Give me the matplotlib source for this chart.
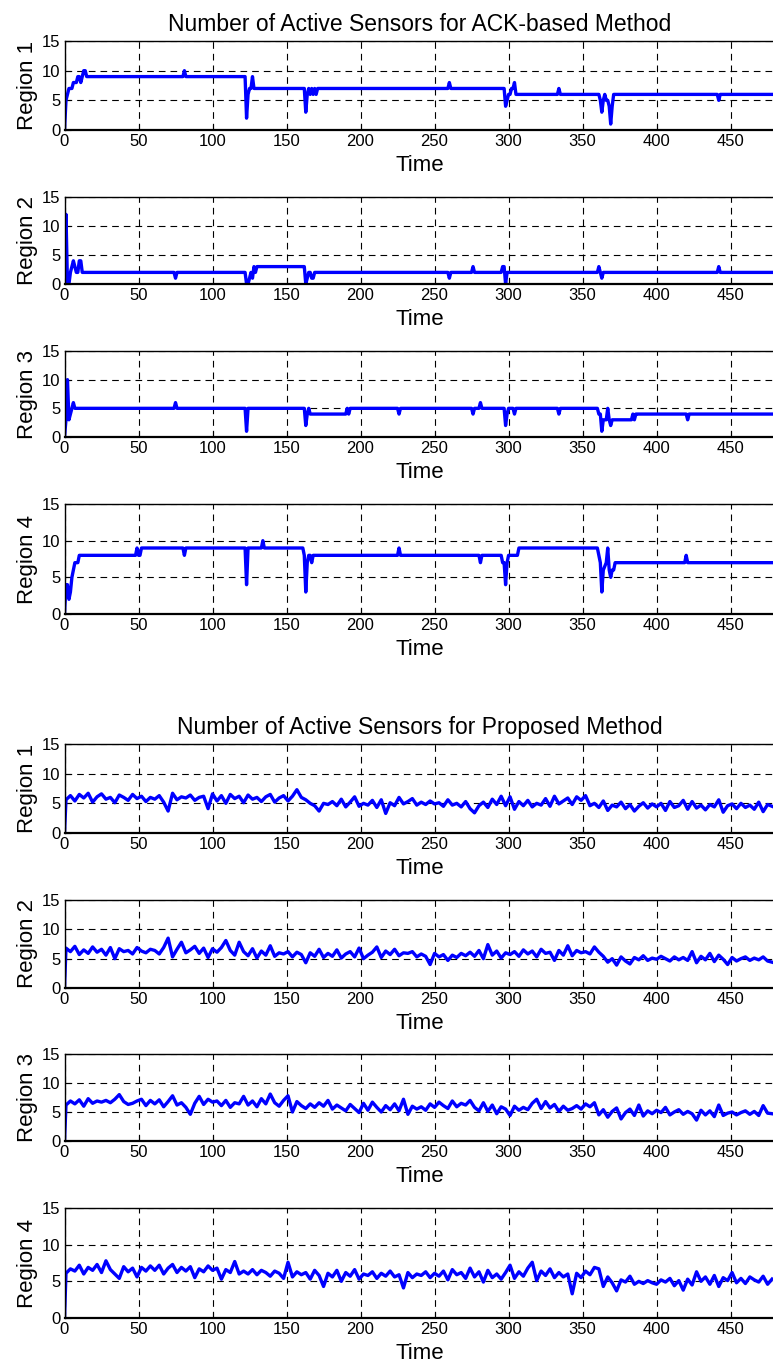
import numpy as np
import matplotlib
matplotlib.use("Agg")
import matplotlib.pyplot as plt

plt.rcParams['font.family'] = ['Liberation Sans', 'DejaVu Sans']

REGIONS = ["Region 1", "Region 2", "Region 3", "Region 4"]
TITLE_ACK = "Number of Active Sensors for ACK-based Method"
TITLE_PROP = "Number of Active Sensors for Proposed Method"

# ACK-based method: breakpoints (time, number of active sensors)
ack_t1 = [0, 1, 2, 3, 5, 6, 8, 9, 10, 11, 12, 13, 14, 15, 80, 81, 82,
          122, 123, 124, 125, 126, 127, 128,
          162, 163, 164, 165, 166, 167, 168, 169, 170, 171, 259, 260, 261,
          297, 298, 299, 300, 301, 302, 303, 304, 305, 333, 334, 335,
          361, 362, 363, 364, 365, 366, 367, 368, 369, 370, 371, 441, 442, 443, 480]
ack_v1 = [0, 5, 6, 7, 7, 8, 8, 9, 9, 8, 9, 10, 10, 9, 9, 10, 9,
          9, 2, 6, 7, 7, 9, 7,
          7, 3, 6, 7, 6, 7, 6, 7, 6, 7, 7, 8, 7,
          7, 4, 5, 6, 6, 7, 7, 8, 6, 6, 7, 6,
          6, 5, 3, 5, 6, 5, 5, 4, 1, 4, 6, 6, 5, 6, 6]

ack_t2 = [0, 1, 2, 3, 4, 5, 6, 7, 8, 9, 10, 11, 12, 74, 75, 76,
          122, 123, 124, 125, 126, 127, 128, 129, 130,
          161, 162, 163, 164, 165, 166, 167, 168, 169, 259, 260, 261,
          275, 276, 277, 295, 296, 297, 298, 299, 360, 361, 362, 363, 364,
          441, 442, 443, 480]
ack_v2 = [0, 12, 0, 0, 2, 3, 4, 3, 2, 2, 4, 4, 2, 2, 1, 2,
          2, 0, 0, 1, 2, 1, 3, 2, 3,
          3, 3, 0, 1, 2, 2, 1, 1, 2, 2, 1, 2,
          2, 3, 2, 2, 3, 3, 0, 2, 2, 3, 2, 1, 2,
          2, 3, 2, 2]

ack_t3 = [0, 1, 2, 3, 4, 5, 6, 7, 74, 75, 76, 122, 123, 124,
          162, 163, 164, 165, 166, 190, 191, 192, 193, 225, 226, 227,
          275, 276, 277, 280, 281, 282, 296, 297, 298, 299, 300, 303, 304, 305,
          333, 334, 335, 360, 361, 362, 363, 364, 366, 367, 368, 369, 370,
          383, 384, 385, 386, 387, 420, 421, 422, 480]
ack_v3 = [0, 3, 10, 3, 4, 5, 6, 5, 5, 6, 5, 5, 1, 5,
          5, 2, 4, 5, 4, 4, 5, 4, 5, 5, 4, 5,
          5, 4, 5, 5, 6, 5, 5, 5, 2, 4, 5, 5, 4, 5,
          5, 4, 5, 5, 4, 4, 1, 3, 3, 5, 3, 2, 3,
          3, 4, 3, 4, 4, 4, 3, 4, 4]

ack_t4 = [0, 1, 2, 3, 4, 5, 6, 7, 9, 10, 48, 49, 50, 51, 52, 80, 81, 82,
          122, 123, 124, 133, 134, 135,
          161, 162, 163, 164, 165, 166, 167, 168, 225, 226, 227, 280, 281, 282,
          295, 296, 297, 298, 299, 300, 306, 307,
          360, 361, 362, 363, 364, 366, 367, 368, 369, 370, 371, 372,
          419, 420, 421, 480]
ack_v4 = [0, 4, 4, 2, 3, 5, 6, 7, 7, 8, 8, 9, 8, 8, 9, 9, 8, 9,
          9, 4, 9, 9, 10, 9,
          9, 8, 3, 7, 8, 8, 7, 8, 8, 9, 8, 8, 7, 8,
          8, 7, 7, 4, 7, 8, 8, 9,
          9, 8, 7, 3, 6, 7, 9, 6, 5, 6, 6, 7,
          7, 8, 7, 7]

# Proposed method: samples every 3 time units starting at t=1 (t=0 is 0)
prop_v1 = [
    5.6, 6.3, 5.4, 6.5, 5.9, 6.7, 5.2, 6.1, 6.6, 5.7, 6.0, 5.1, 6.4, 6.0, 5.5, 6.5, 5.8, 6.2, 5.3, 6.0,
    5.7, 6.3, 5.2, 3.7, 6.7, 5.6, 6.1, 5.9, 6.4, 5.5, 6.0, 6.2, 4.1, 6.6, 5.4, 6.3, 5.0, 6.5, 5.8, 6.2,
    5.1, 6.4, 5.7, 6.0, 5.3, 6.1, 6.5, 5.2, 5.9, 6.3, 5.4, 6.2, 7.3, 6.0, 5.6, 5.0, 4.6, 3.7, 5.0, 4.8,
    5.3, 4.6, 5.7, 4.4, 5.2, 6.1, 4.5, 5.0, 4.7, 5.5, 4.3, 5.6, 3.3, 5.1, 4.6, 6.0, 4.9, 5.3, 5.8, 4.7,
    5.2, 4.8, 5.4, 4.9, 5.1, 4.5, 5.6, 4.7, 5.0, 4.4, 5.3, 4.1, 3.4, 4.6, 5.2, 4.3, 5.7, 4.8, 6.2, 4.6,
    6.1, 4.0, 5.3, 4.6, 5.5, 4.4, 5.0, 4.7, 5.8, 4.5, 6.2, 4.9, 5.4, 5.9, 4.8, 6.1, 5.5, 6.3, 4.6, 5.0,
    4.3, 5.4, 3.8, 4.7, 4.4, 5.2, 4.1, 4.8, 3.7, 4.5, 5.1, 4.2, 4.9, 4.4, 5.0, 3.8, 5.3, 4.3, 4.6, 5.5,
    4.0, 5.3, 4.2, 4.7, 3.9, 4.8, 4.4, 5.6, 3.5, 4.6, 4.9, 4.1, 5.0, 4.3, 4.7, 4.0, 5.2, 3.6, 4.8, 4.5]

prop_v2 = [
    6.8, 6.2, 7.1, 5.7, 6.5, 5.9, 7.0, 6.1, 6.6, 5.6, 6.9, 5.0, 6.7, 6.2, 6.4, 5.8, 6.9, 6.3, 6.0, 6.6,
    6.4, 5.8, 6.9, 8.5, 5.3, 6.6, 7.8, 6.0, 6.5, 7.1, 5.9, 6.8, 5.2, 6.7, 6.1, 6.9, 8.1, 6.4, 5.6, 7.8,
    6.2, 5.5, 6.7, 5.1, 6.3, 5.6, 7.2, 5.4, 6.0, 5.8, 6.2, 5.3, 6.1, 5.7, 4.3, 6.0, 5.4, 6.6, 5.2, 5.9,
    5.4, 6.5, 5.1, 5.8, 6.2, 5.3, 6.8, 5.0, 5.6, 6.1, 7.0, 5.2, 6.3, 5.7, 6.6, 5.5, 6.0, 5.9, 6.2, 5.3,
    5.8, 5.4, 4.0, 5.9, 5.3, 5.7, 4.7, 5.6, 5.2, 5.9, 5.5, 6.1, 5.4, 6.4, 5.0, 7.4, 5.6, 6.3, 5.1, 6.0,
    5.7, 6.2, 5.4, 6.5, 5.8, 6.3, 5.3, 6.6, 5.9, 6.1, 4.7, 6.4, 5.6, 7.2, 5.5, 6.4, 6.0, 6.2, 5.8, 7.0,
    6.1, 5.4, 4.4, 5.0, 3.9, 5.3, 4.6, 4.1, 5.2, 4.8, 5.5, 4.7, 5.1, 4.9, 5.4, 5.0, 4.6, 5.3, 4.8, 5.2,
    4.7, 6.2, 4.3, 5.4, 4.8, 5.9, 4.5, 5.6, 4.9, 4.0, 5.2, 4.6, 5.0, 5.3, 4.7, 5.1, 4.8, 5.3, 4.6, 4.4]

prop_v3 = [
    6.2, 6.9, 6.4, 7.1, 6.0, 7.3, 6.5, 6.9, 6.7, 7.0, 6.6, 7.2, 8.0, 6.8, 6.3, 6.5, 6.9, 7.2, 6.1, 7.0,
    6.4, 7.1, 5.9, 6.8, 7.8, 6.2, 6.6, 5.8, 4.6, 6.5, 7.7, 6.3, 7.2, 6.7, 6.9, 6.1, 7.0, 5.8, 6.6, 6.4,
    7.7, 6.2, 6.9, 5.9, 7.3, 6.4, 8.1, 6.6, 6.0, 7.0, 7.8, 5.0, 6.8, 6.1, 5.6, 6.4, 5.8, 6.6, 6.0, 7.0,
    5.5, 6.2, 5.7, 5.2, 6.3, 5.6, 4.9, 6.5, 5.3, 6.7, 5.8, 5.0, 6.1, 5.4, 6.4, 5.2, 7.2, 4.6, 6.0, 5.5,
    5.9, 5.3, 6.4, 5.8, 6.7, 6.1, 5.6, 6.9, 5.9, 6.5, 6.2, 7.0, 5.8, 5.2, 6.6, 5.1, 6.2, 4.7, 5.9, 5.5,
    4.4, 6.0, 5.3, 5.8, 5.4, 6.5, 7.2, 5.6, 6.8, 5.7, 6.3, 5.1, 6.0, 5.3, 5.6, 6.1, 5.5, 6.4, 5.9, 6.6,
    4.5, 5.4, 4.1, 5.1, 5.7, 3.8, 4.9, 5.5, 4.4, 6.2, 4.3, 5.2, 4.7, 5.3, 4.9, 5.8, 4.5, 5.0, 5.4, 4.6,
    5.1, 4.7, 3.6, 5.3, 4.5, 5.2, 4.2, 6.2, 4.4, 4.8, 5.0, 4.5, 4.9, 5.2, 4.6, 5.1, 4.4, 6.1, 4.8, 4.7]

prop_v4 = [
    6.1, 6.7, 6.4, 7.2, 6.0, 6.9, 6.5, 7.3, 6.2, 7.8, 6.6, 6.0, 5.4, 7.0, 6.3, 6.8, 5.6, 6.9, 6.4, 7.1,
    6.5, 7.2, 6.0, 6.8, 7.3, 6.2, 6.9, 6.4, 7.0, 5.5, 6.7, 6.3, 7.1, 6.5, 6.8, 5.3, 6.6, 6.2, 7.7, 6.0,
    6.4, 6.0, 6.6, 5.9, 6.5, 6.2, 5.7, 6.4, 6.1, 5.4, 7.6, 5.6, 6.3, 5.9, 6.2, 5.3, 6.5, 5.8, 4.3, 6.1,
    5.6, 6.5, 5.0, 6.2, 5.7, 6.6, 5.3, 6.0, 5.8, 6.3, 5.4, 6.1, 5.7, 6.4, 5.6, 5.9, 4.1, 6.2, 5.5, 6.0,
    5.8, 6.3, 5.5, 6.1, 5.7, 6.4, 5.2, 6.6, 5.9, 6.2, 5.4, 6.8, 5.6, 6.3, 4.9, 6.5, 5.5, 6.0, 5.3, 6.2,
    7.2, 5.4, 6.3, 5.7, 6.8, 7.6, 5.1, 6.4, 5.8, 6.7, 5.5, 6.2, 5.6, 6.0, 3.3, 6.1, 5.5, 6.4, 5.9, 6.9,
    6.7, 4.3, 5.6, 4.8, 3.7, 5.2, 4.9, 5.7, 4.6, 5.0, 4.7, 5.1, 4.8, 4.6, 5.2, 4.9, 5.4, 4.4, 5.1, 3.8,
    5.3, 4.5, 6.3, 5.0, 5.6, 4.6, 5.8, 4.3, 5.5, 5.1, 6.2, 4.8, 5.4, 4.7, 5.6, 5.2, 4.9, 5.7, 4.6, 5.3]

ack_series = [(ack_t1, ack_v1), (ack_t2, ack_v2), (ack_t3, ack_v3), (ack_t4, ack_v4)]
prop_series = []
for vals in [prop_v1, prop_v2, prop_v3, prop_v4]:
    t = np.r_[0, 1 + 3 * np.arange(len(vals))]
    prop_series.append((t, np.r_[0, vals]))

W, H = 773, 1367
fig = plt.figure(figsize=(W / 100, H / 100), dpi=100)
fig.patch.set_facecolor('white')

x0 = 64.5
x1 = 775.0
# (top, bottom) pixel rows of each axes box
rows_ack = [(41, 130), (197, 284), (351, 437), (504, 614)]
rows_prop = [(744, 833), (900, 988), (1054, 1141), (1208, 1318)]


def make_axes(top, bottom):
    ax = fig.add_axes([x0 / W, 1 - bottom / H, (x1 - x0) / W, (bottom - top) / H])
    ax.set_xlim(0, 480)
    ax.set_ylim(0, 15)
    ax.set_xticks(np.arange(0, 451, 50))
    ax.set_yticks([0, 5, 10, 15])
    ax.tick_params(direction='in', length=4, width=0.8, labelsize=12, pad=3,
                   top=False, right=False)
    ax.grid(True, color='black', linestyle=(0, (6, 4.5)), linewidth=0.8)
    for s in ax.spines.values():
        s.set_linewidth(1.0)
    ax.spines['bottom'].set_linewidth(1.6)
    ax.set_xlabel("Time", fontsize=16, labelpad=4)
    return ax


def draw_group(rows, series, title):
    for i, ((top, bottom), (t, v)) in enumerate(zip(rows, series)):
        ax = make_axes(top, bottom)
        ax.plot(t, v, color='#0000ff', linewidth=2.4)
        ax.set_ylabel(REGIONS[i], fontsize=16, labelpad=3)
        if i == 0:
            ax.set_title(title, fontsize=16.5, pad=7)


draw_group(rows_ack, ack_series, TITLE_ACK)
draw_group(rows_prop, prop_series, TITLE_PROP)

fig.savefig("out.png", dpi=100)
